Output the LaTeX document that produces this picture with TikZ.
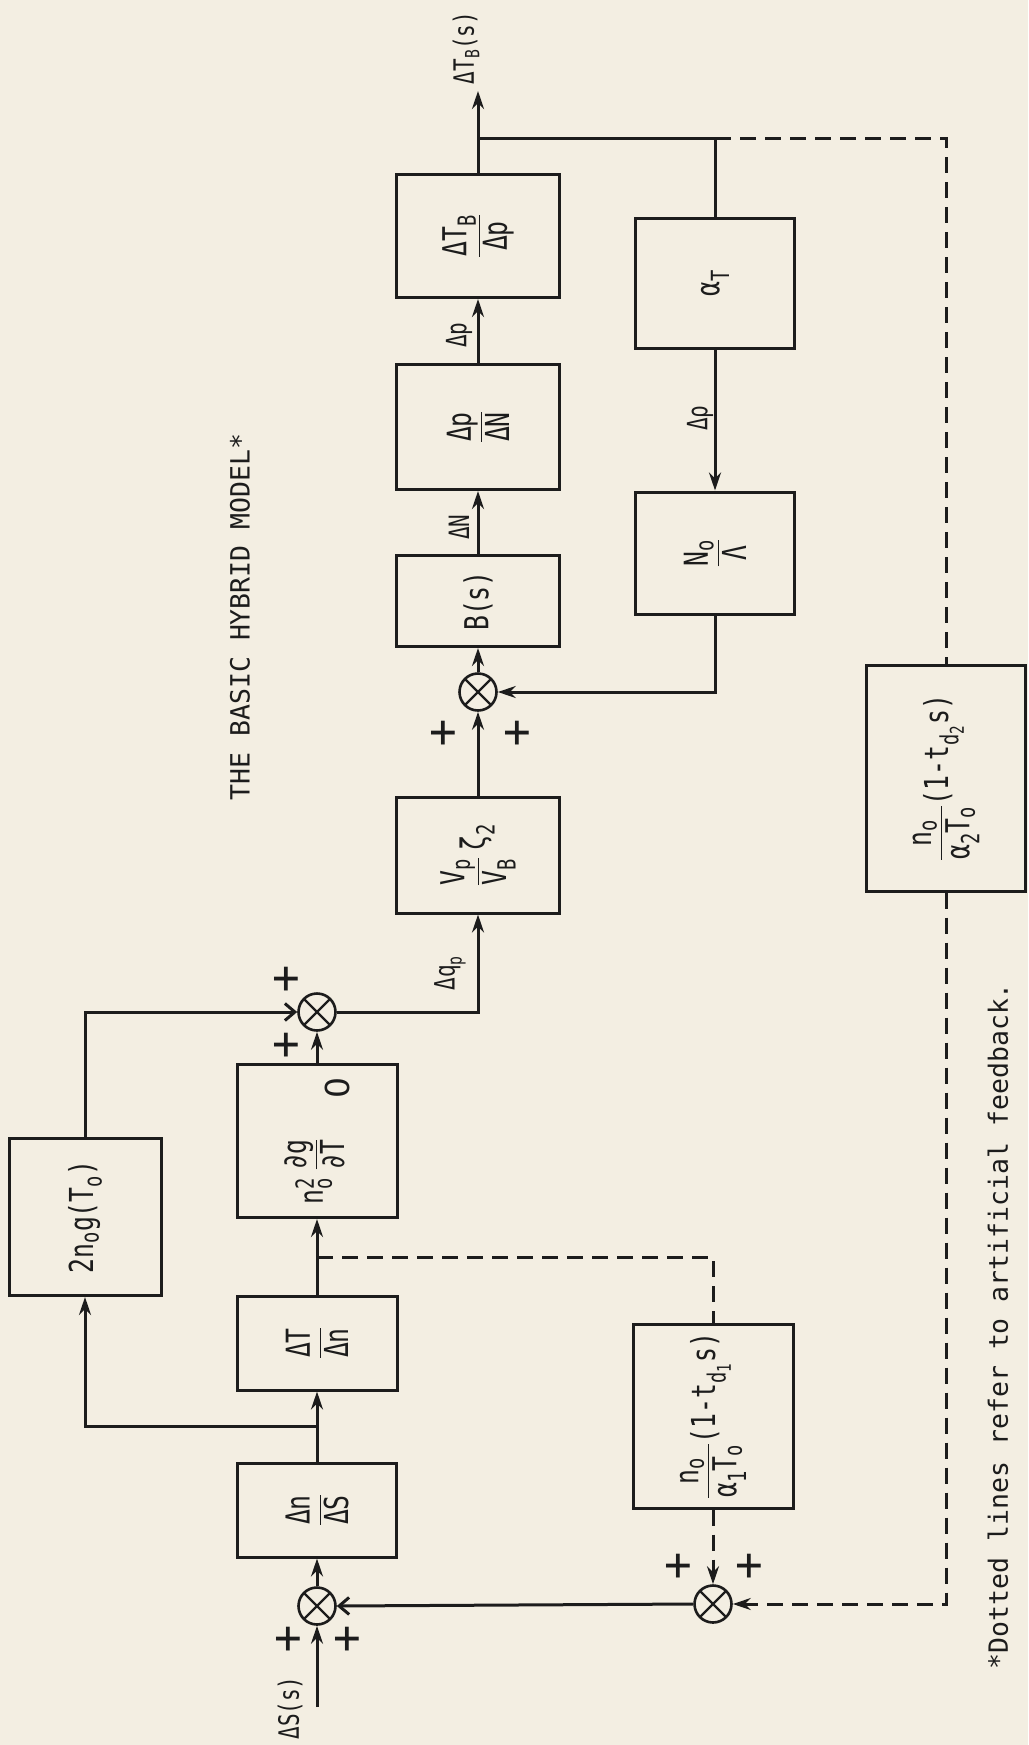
\documentclass[tikz,border=0pt]{standalone}
\usepackage{amsmath}
\usepackage{graphicx}
\usepackage{fontspec}
\setmainfont{DejaVu Sans Mono}
\newfontfamily\boxfont{DejaVu Sans Mono}[FakeStretch=0.75]
\newfontfamily\plainfont{DejaVu Sans}
\usetikzlibrary{arrows.meta}
\DeclareMathSizes{33}{33}{25}{19}
\definecolor{bgc}{RGB}{243,238,226}
\definecolor{inkc}{RGB}{28,28,28}
\newcommand{\mytx}[1]{\text{#1}}
\begin{document}
\begin{tikzpicture}[x=1pt,y=-1pt,
 ink/.style={draw=inkc, line width=3pt},
 blk/.style={draw=inkc, line width=3pt, inner sep=0pt, font=\boxfont\fontsize{33}{38}\selectfont, text=inkc},
 sumj/.style={circle, draw=inkc, line width=2.6pt, minimum size=37pt, inner sep=0pt,
   path picture={\draw[inkc, line width=2.4pt] (path picture bounding box.north west) -- (path picture bounding box.south east) (path picture bounding box.north east) -- (path picture bounding box.south west);}},
 arr/.style={ink, -{Stealth[length=18pt,width=12pt]}},
 barb/.style={ink, -{Straight Barb[length=10pt,width=17pt]}},
 dashln/.style={ink, dash pattern=on 16pt off 9pt},
 lbl/.style={rotate=90, font=\boxfont\fontsize{28}{32}\selectfont, text=inkc, inner sep=1pt},
 plus/.style={font=\fontsize{46}{46}\selectfont, text=inkc, inner sep=0pt},
 ttl/.style={rotate=90, font=\fontsize{26.5}{30}\selectfont, text=inkc, inner sep=0pt}
]
\fill[bgc] (0,0) rectangle (1028,1745);
\useasboundingbox (0,0) rectangle (1028,1745);

% boxes
\node[blk, minimum width=159pt, minimum height=94pt] (b1) at (317,1510) {\rotatebox{90}{$\dfrac{\mytx{Δn}}{\mytx{ΔS}}$}};
\node[blk, minimum width=160pt, minimum height=94pt] (b2) at (317,1343) {\rotatebox{90}{$\dfrac{\mytx{ΔT}}{\mytx{Δn}}$}};
\node[blk, minimum width=160pt, minimum height=153pt] (b3) at (317,1141) {\rotatebox{90}{$\mytx{n}_{\mytx{o}}^{\mytx{2}}\;\dfrac{\mytx{∂g}}{\mytx{∂T}}\hspace{1.2em}\raisebox{-0.8em}{\plainfont 0}$}};
\node[blk, minimum width=152pt, minimum height=157pt] (b4) at (85,1217) {\rotatebox{90}{$\mytx{2n}_{\mytx{o}}\mytx{g(T}_{\mytx{o}}\mytx{)}$}};
\node[blk, minimum width=163pt, minimum height=116pt] (b5) at (478,855) {\rotatebox{90}{$\dfrac{\mytx{V}_{\mytx{p}}}{\mytx{V}_{\mytx{B}}}\;\mytx{ζ}_{\mytx{2}}$}};
\node[blk, minimum width=163pt, minimum height=91pt] (b6) at (478,601) {\rotatebox{90}{B(s)}};
\node[blk, minimum width=163pt, minimum height=125pt] (b7) at (478,427) {\rotatebox{90}{$\dfrac{\mytx{Δp}}{\mytx{ΔN}}$}};
\node[blk, minimum width=163pt, minimum height=123pt] (b8) at (478,236) {\rotatebox{90}{$\dfrac{\mytx{ΔT}_{\mytx{B}}}{\mytx{Δp}}$}};
\node[blk, minimum width=159pt, minimum height=130pt] (b9) at (715,283) {\rotatebox{90}{$\mytx{α}_{\mytx{T}}$}};
\node[blk, minimum width=159pt, minimum height=122pt] (b10) at (715,553) {\rotatebox{90}{$\dfrac{\mytx{N}_{\mytx{o}}}{\mytx{Λ}}$}};
\node[blk, minimum width=160pt, minimum height=184pt] (b11) at (713,1416) {\rotatebox{90}{$\dfrac{\mytx{n}_{\mytx{o}}}{\mytx{α}_{\mytx{1}}\mytx{T}_{\mytx{o}}}\mytx{(1-t}_{\mytx{d}_{\mytx{1}}}\mytx{s)}$}};
\node[blk, minimum width=159pt, minimum height=226pt] (b12) at (946,778) {\rotatebox{90}{$\dfrac{\mytx{n}_{\mytx{o}}}{\mytx{α}_{\mytx{2}}\mytx{T}_{\mytx{o}}}\mytx{(1-t}_{\mytx{d}_{\mytx{2}}}\mytx{s)}$}};

% summing junctions
\node[sumj] (j1) at (317,1606) {};
\node[sumj] (j2) at (713,1604) {};
\node[sumj] (j3) at (317,1012) {};
\node[sumj] (j4) at (478,692) {};

% plus signs
\node[plus] (p1) at (288,1640) {+};
\node[plus] (p2) at (347,1640) {+};
\node[plus] (p3) at (678,1567) {+};
\node[plus] (p4) at (749,1567) {+};
\node[plus] (p5) at (286,980) {+};
\node[plus] (p6) at (286,1046) {+};
\node[plus] (p7) at (443,734) {+};
\node[plus] (p8) at (517,734) {+};

% labels
\node[lbl] (lin) at (290,1708) {ΔS(s)};
\node[lbl] (lq) at (450,973) {$\mytx{Δq}_{\mytx{p}}$};
\node[lbl] (lN) at (459,527) {ΔN};
\node[lbl] (lp) at (459,335) {Δp};
\node[lbl] (lr) at (700,418) {Δρ};
\node[lbl] (lout) at (466,48) {$\mytx{ΔT}_{\mytx{B}}\mytx{(s)}$};
\node[ttl] (title) at (240,617) {THE BASIC HYBRID MODEL*};
\node[ttl] (foot) at (998,1326) {*Dotted lines refer to artificial feedback.};

% coordinates
\coordinate (in) at (317,1707);
\coordinate (br1) at (317,1426);
\coordinate (br2) at (317,1257);
\coordinate (out) at (478,91);
\coordinate (top1) at (478,138);
\coordinate (top2) at (715,138);

% connectors
\draw[arr] (in) -- (j1.south);
\draw[arr] (j1.north) -- (b1.south);
\draw[arr] (b1.north) -- (b2.south);
\draw[arr] (br1) -| (b4.south);
\draw[arr] (b2.north) -- (b3.south);
\draw[dashln] (br2) -| (b11.north);
\draw[arr] (b3.north) -- (j3.south);
\draw[barb] (b4.north) |- (j3.west);
\draw[arr] (j3.east) -| (b5.south);
\draw[arr] (b5.north) -- (j4.south);
\draw[arr] (j4.north) -- (b6.south);
\draw[arr] (b6.north) -- (b7.south);
\draw[arr] (b7.north) -- (b8.south);
\draw[arr] (b8.north) -- (out);
\draw[ink] (top1) -- (top2);
\draw[ink] (top2) -- (b9.north);
\draw[dashln] (top2) -| (b12.north);
\draw[arr] (b9.south) -- (b10.north);
\draw[arr] (b10.south) |- (j4.east);
\draw[dashln, -{Stealth[length=18pt,width=12pt]}] (b12.south) |- (j2.east);
\draw[dashln, -{Stealth[length=18pt,width=12pt]}] (b11.south) -- (j2.north);
\draw[barb] (j2.west) -- (j1.east);
\end{tikzpicture}
\end{document}
